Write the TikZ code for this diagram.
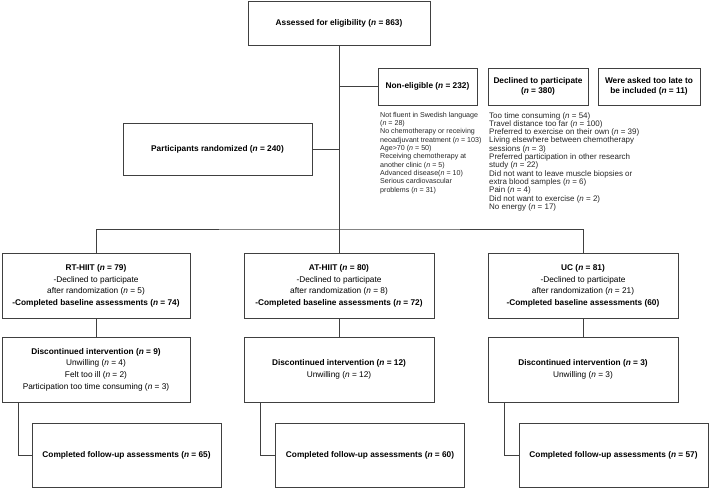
\documentclass[tikz,border=0pt]{standalone}
\usepackage{fontspec}
\setmainfont{Liberation Sans}
\usetikzlibrary{positioning}
\newcommand{\nval}[1]{(\textit{n} = #1)}

\begin{document}
\begin{tikzpicture}[x=1pt,y=-1pt,node distance=83.5pt]
\tikzstyle{box}=[draw=black!75,line width=0.8pt,inner sep=2pt,align=center,
  font=\fontsize{8.3}{11.6}\selectfont]
\tikzstyle{grp}=[box,minimum width=190pt,minimum height=65pt]
\tikzstyle{fup}=[box,minimum width=189pt,minimum height=64pt]
\tikzstyle{list}=[anchor=north west,inner sep=0pt,align=left,text=black!85,
  font=\fontsize{8}{8.3}\selectfont]
\tikzstyle{line}=[draw=black!75,line width=0.8pt]
\useasboundingbox (0,0) rectangle (709,488);
\node[box,minimum width=182pt,minimum height=44pt] (elig) at (339,23)
  {\textbf{Assessed for eligibility \nval{863}}};
\node[box,minimum width=99pt,minimum height=37pt] (noneli) at (427.5,86.5)
  {\textbf{Non-eligible \nval{232}}};
\node[box,minimum width=100pt,minimum height=37pt,font=\fontsize{8.3}{10}\selectfont] (decl) at (538,86.5)
  {\textbf{Declined to participate}\\\textbf{\nval{380}}};
\node[box,minimum width=102pt,minimum height=37pt,font=\fontsize{8.3}{10}\selectfont] (late) at (649,86.5)
  {\textbf{Were asked too late to}\\\textbf{be included \nval{11}}};
\node[list,font=\fontsize{7.1}{8.3}\selectfont] (nelist) at (380,112) {Not fluent in Swedish language\\
  (\textit{n} = 28)\\
  No chemotherapy or receiving\\
  neoadjuvant treatment (\textit{n} = 103)\\
  Age>70 (\textit{n} = 50)\\
  Receiving chemotherapy at\\
  another clinic (\textit{n} = 5)\\
  Advanced disease(\textit{n} = 10)\\
  Serious cardiovascular\\
  problems (\textit{n} = 31)};
\node[list] (dclist) at (489,112) {Too time consuming (\textit{n} = 54)\\
  Travel distance too far (\textit{n} = 100)\\
  Preferred to exercise on their own (\textit{n} = 39)\\
  Living elsewhere between chemotherapy\\
  sessions (\textit{n} = 3)\\
  Preferred participation in other research\\
  study (\textit{n} = 22)\\
  Did not want to leave muscle biopsies or\\
  extra blood samples (\textit{n} = 6)\\
  Pain (\textit{n} = 4)\\
  Did not want to exercise (\textit{n} = 2)\\
  No energy (\textit{n} = 17)};
\node[box,minimum width=189pt,minimum height=52pt] (rand) at (217.5,149)
  {\textbf{Participants randomized \nval{240}}};
% randomized groups
\node[grp,minimum width=188pt] (rt) at (96,286) {\textbf{RT-HIIT \nval{79}}\\
  -Declined to participate\\after randomization \nval{5}\\
  \textbf{-Completed baseline assessments \nval{74}}};
\node[grp] (at) at (339,286) {\textbf{AT-HIIT \nval{80}}\\
  -Declined to participate\\after randomization \nval{8}\\
  \textbf{-Completed baseline assessments \nval{72}}};
\node[grp] (uc) at (583,286) {\textbf{UC \nval{81}}\\
  -Declined to participate\\after randomization \nval{21}\\
  \textbf{-Completed baseline assessments (60)}};
\node[grp,minimum width=188pt] (drt) [below of=rt] {\textbf{Discontinued intervention \nval{9}}\\
  Unwilling \nval{4}\\Felt too ill \nval{2}\\
  Participation too time consuming \nval{3}};
\node[grp] (dat) [below of=at] {\textbf{Discontinued intervention \nval{12}}\\
  Unwilling \nval{12}};
\node[grp] (duc) [below of=uc] {\textbf{Discontinued intervention \nval{3}}\\
  Unwilling \nval{3}};
\node[fup] (frt) [below of=drt,node distance=85.5pt,xshift=30.5pt]
  {\textbf{Completed follow-up assessments \nval{65}}};
\node[fup] (fat) [below of=dat,node distance=85.5pt,xshift=31pt]
  {\textbf{Completed follow-up assessments \nval{60}}};
\node[fup] (fuc) [below of=duc,node distance=85.5pt,xshift=30.5pt]
  {\textbf{Completed follow-up assessments \nval{57}}};
\coordinate (br) at (339,229);
\draw[line] (elig) -- (at);
\draw[line] (noneli) -- (noneli -| elig);
\draw[line] (rand) -- (rand -| elig);
\draw[line] (rt) |- (br) -| (uc);
\foreach \g in {rt,at,uc} {
  \draw[line] (\g) -- (d\g);
  \draw[line] ([xshift=17pt]d\g.south west) |- (f\g);
}
\end{tikzpicture}
\end{document}
